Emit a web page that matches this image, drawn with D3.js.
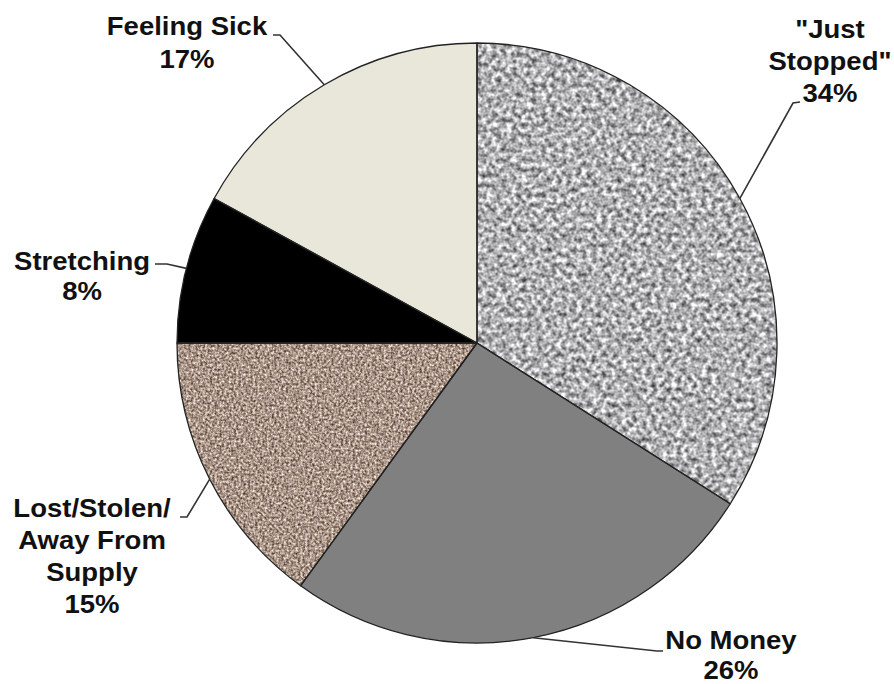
<!DOCTYPE html>
<html>
<head>
<meta charset="utf-8">
<script src="https://cdn.jsdelivr.net/npm/d3@7"></script>
<style>
  html, body { margin: 0; padding: 0; background: #fff; }
  svg { display: block; }
</style>
</head>
<body>
<svg id="chart" width="894" height="684"></svg>
<script>
// ---- data ----
const categories = ['"Just Stopped"', 'No Money', 'Lost/Stolen/ Away From Supply', 'Stretching', 'Feeling Sick'];
const values = [34, 26, 15, 8, 17];
const labelLines = [
  ['"Just', 'Stopped"', '34%'],
  ['No Money', '26%'],
  ['Lost/Stolen/', 'Away From', 'Supply', '15%'],
  ['Stretching', '8%'],
  ['Feeling Sick', '17%']
];

// ---- style / layout ----
const fills = ['url-granite', '#808080', 'url-brown', '#000000', '#e9e7da'];
const cx = 477, cy = 343, radius = 300;
// elbow & end of leader line, label anchor (center x, first baseline) relative to pie center
const leaderElbow = [[316, -240], [180, 308], [-290, 174], [-310, -79], [-197, -308]];
const leaderEnd   = [[323, -241], [186, 308], [-297, 174], [-322, -79], [-204, -308]];
const labelPos    = [[353, -305], [254, 306], [-385, 174], [-395, -73], [-290, -308]];
const lineGaps    = [32, 30, 32, 30, 33];

const svg = d3.select('#chart');
const defs = svg.append('defs');

function noiseFilter(id, freq, k, base, seed) {
  const f = defs.append('filter').attr('id', id)
    .attr('x', 0).attr('y', 0).attr('width', 1).attr('height', 1)
    .attr('color-interpolation-filters', 'sRGB');
  f.append('feTurbulence').attr('type', 'fractalNoise')
    .attr('baseFrequency', freq).attr('numOctaves', 2).attr('seed', seed).attr('result', 'n');
  const o = base.map(b => (b - k / 2).toFixed(3));
  f.append('feColorMatrix').attr('in', 'n').attr('type', 'matrix')
    .attr('values', `${k} 0 0 0 ${o[0]}  ${k} 0 0 0 ${o[1]}  ${k} 0 0 0 ${o[2]}  0 0 0 0 1`)
    .attr('result', 'c');
  f.append('feComposite').attr('in', 'c').attr('in2', 'SourceAlpha').attr('operator', 'in');
}
noiseFilter('granite', 0.2, 1.25, [0.69, 0.69, 0.70], 7);
noiseFilter('brown', 0.42, 1.1, [0.66, 0.585, 0.535], 3);

const pie = d3.pie().sort(null).value(d => d)
  .startAngle(0).endAngle(2 * Math.PI);
const arcs = pie(values);
const arc = d3.arc().innerRadius(0).outerRadius(radius);

const g = svg.append('g').attr('transform', `translate(${cx},${cy})`);

g.selectAll('path.slice').data(arcs).enter().append('path')
  .attr('class', 'slice')
  .attr('d', arc)
  .attr('fill', (d, i) => fills[i].startsWith('url-') ? '#999' : fills[i])
  .attr('filter', (d, i) => fills[i].startsWith('url-') ? `url(#${fills[i].slice(4)})` : null);

g.selectAll('path.outline').data(arcs).enter().append('path')
  .attr('class', 'outline')
  .attr('d', arc)
  .attr('fill', 'none')
  .attr('stroke', '#222')
  .attr('stroke-width', 1.3)
  .attr('stroke-linejoin', 'round');

// leader lines
g.selectAll('polyline.leader').data(arcs).enter().append('polyline')
  .attr('class', 'leader')
  .attr('points', (d, i) => {
    const a = (d.startAngle + d.endAngle) / 2;
    const p0 = [radius * Math.sin(a), -radius * Math.cos(a)];
    return [p0, leaderElbow[i], leaderEnd[i]].map(p => p.join(',')).join(' ');
  })
  .attr('fill', 'none')
  .attr('stroke', '#333')
  .attr('stroke-width', 1.6);

// labels
const lab = g.selectAll('g.label').data(arcs).enter().append('g')
  .attr('class', 'label')
  .attr('transform', (d, i) => `translate(${labelPos[i][0]},${labelPos[i][1]})`);
lab.each(function (d, i) {
  const sel = d3.select(this);
  labelLines[i].forEach((t, j) => {
    sel.append('text')
      .attr('transform', `translate(0,${j * lineGaps[i]}) scale(1.1,1)`)
      .attr('text-anchor', 'middle')
      .attr('font-family', '"Liberation Sans", Arial, sans-serif')
      .attr('font-weight', 'bold')
      .attr('font-size', 25)
      .attr('fill', '#111')
      .text(t);
  });
});
</script>
</body>
</html>
